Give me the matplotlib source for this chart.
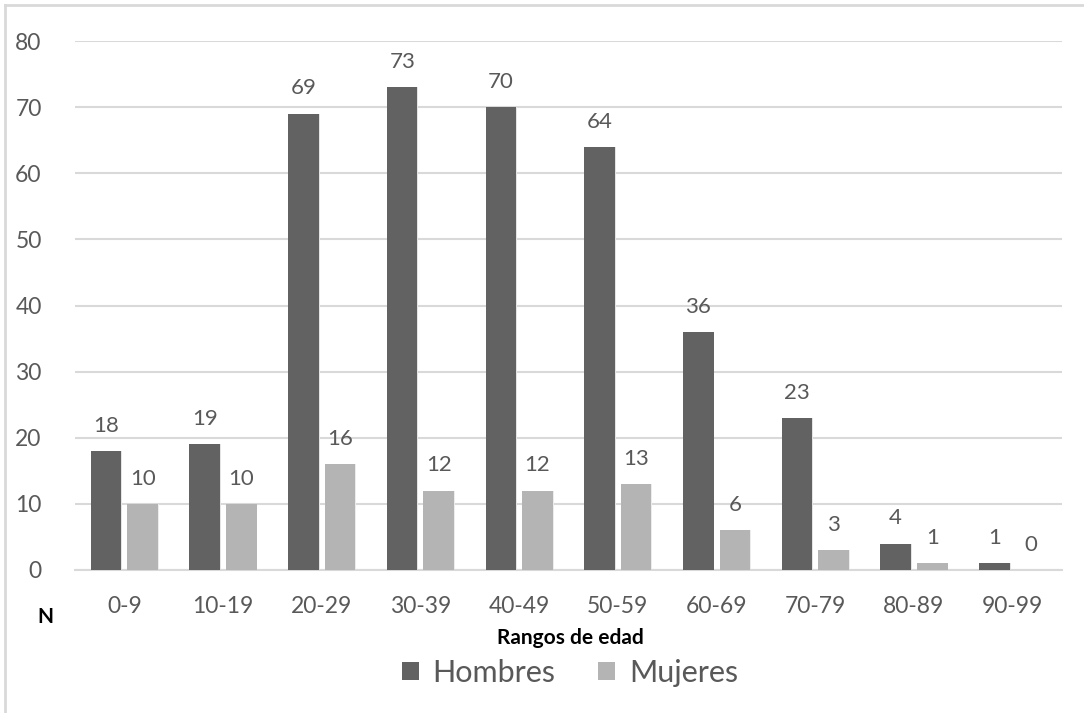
import numpy as np
import matplotlib.pyplot as plt
from matplotlib.lines import Line2D

plt.rcParams['font.family'] = ['Lato', 'DejaVu Sans']

categorias = ['0-9', '10-19', '20-29', '30-39', '40-49', '50-59', '60-69', '70-79', '80-89', '90-99']
hombres = [18, 19, 69, 73, 70, 64, 36, 23, 4, 1]
mujeres = [10, 10, 16, 12, 12, 13, 6, 3, 1, 0]

C_H = '#626262'
C_M = '#b4b4b4'
GRID = '#d9d9d9'
TXT = '#595959'

fig = plt.figure(figsize=(10.84, 7.13), dpi=100)
ax = fig.add_axes([75 / 1084, 1 - 570 / 713, 987 / 1084, 529 / 713])

x = np.arange(len(categorias))
w = 0.31
off = 0.185

# soft shadow behind bars
ax.bar(x - off + 0.006, hombres, w + 0.006, color='#e4e4e4', zorder=2, linewidth=0)
ax.bar(x + off + 0.006, mujeres, w + 0.006, color='#ececec', zorder=2, linewidth=0)
bh = ax.bar(x - off, hombres, w, color=C_H, zorder=3, linewidth=0, label='Hombres')
bm = ax.bar(x + off, mujeres, w, color=C_M, zorder=3, linewidth=0, label='Mujeres')

for rects, vals in ((bh, hombres), (bm, mujeres)):
    for r, v in zip(rects, vals):
        ax.annotate(str(v), (r.get_x() + r.get_width() / 2, v), xytext=(0, 11),
                    textcoords='offset points', ha='center', va='bottom',
                    fontsize=16, color=TXT)

ax.set_xlim(-0.5, len(categorias) - 0.5)
ax.set_ylim(0, 80)
ax.set_yticks(np.arange(0, 81, 10))
ax.set_xticks(x)
ax.set_xticklabels(categorias)
ax.yaxis.grid(True, color=GRID, lw=1.5, zorder=0)
ax.set_axisbelow(True)
for s in ['top', 'right', 'left']:
    ax.spines[s].set_visible(False)
ax.spines['bottom'].set_color(GRID)
ax.spines['bottom'].set_linewidth(1.5)
ax.tick_params(axis='both', length=0, labelsize=16.5, labelcolor=TXT)
ax.tick_params(axis='x', pad=19)
ax.tick_params(axis='y', pad=24)

fig.text(570 / 1084, 1 - 638 / 713, 'Rangos de edad', ha='center', va='center',
         fontsize=15, fontweight='bold', color='black')
fig.text(45 / 1084, 1 - 617 / 713, 'N', ha='center', va='center',
         fontsize=15, fontweight='bold', color='black')

fig.legend(handles=[bh, bm], loc='center', bbox_to_anchor=(570 / 1084, 1 - 673 / 713),
           ncol=2, frameon=False, fontsize=22, handlelength=0.55, handleheight=0.55,
           handletextpad=0.45, columnspacing=1.4, labelcolor=TXT)

# chart frame (left and top edges)
fig.add_artist(Line2D([5 / 1084, 5 / 1084], [0, 1 - 5 / 713], color=GRID, lw=2))
fig.add_artist(Line2D([5 / 1084, 1], [1 - 5 / 713, 1 - 5 / 713], color=GRID, lw=2))

fig.savefig('out.png', dpi=100, facecolor='white')
